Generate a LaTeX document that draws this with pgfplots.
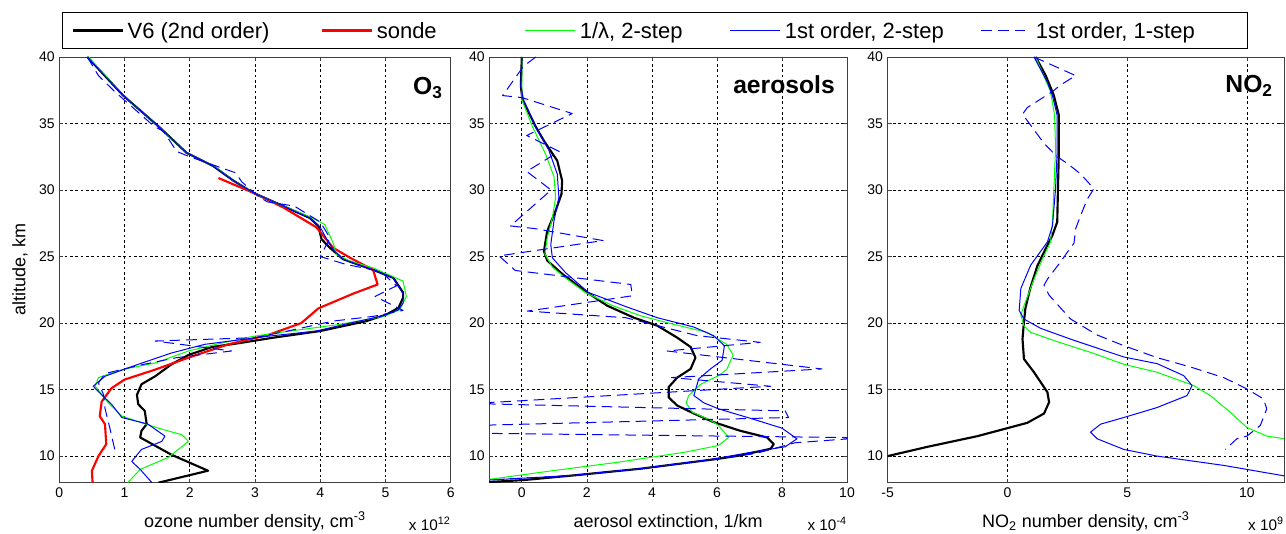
\documentclass[border=0pt]{standalone}
\usepackage{pgfplots}
\pgfplotsset{compat=1.18}
\usepackage{fontspec}
\setmainfont{Liberation Sans}
\definecolor{mgreen}{RGB}{0,255,0}
\tikzset{
 mult/.style={anchor=base east, inner sep=0pt, font=\fontsize{11.5}{13}\selectfont},
 ttl/.style={anchor=north east, inner sep=0pt, font=\bfseries\fontsize{18.5}{20}\selectfont},
}
\pgfplotsset{
 panel/.style={
  scale only axis, height=319.275pt, anchor=south west,
  ymin=8, ymax=40, ytick={10,15,20,25,30,35,40},
  grid=major, major grid style={black, line width=0.5pt, dash pattern=on 2pt off 2pt},
  tick align=inside, major tick length=3pt,
  axis line style={black!75, line width=0.6pt},
  every tick/.style={black!75, line width=0.5pt},
  tick label style={font=\fontsize{10.5}{12}\selectfont},
  /pgf/number format/assume math mode=true,
  xlabel style={font=\fontsize{13.5}{16}\selectfont, at={(axis description cs:0.5,-0.105)}, anchor=base},
  ylabel style={font=\fontsize{13.5}{16}\selectfont, at={(axis description cs:-0.1004,0.5)}, anchor=center},
  clip mode=individual,
  every axis plot/.append style={mark=none, line join=round},
 },
 leg/.style={legend image code/.code={\draw[##1] (0pt,0pt) -- (37.5pt,0pt);}},
 v6/.style={draw=black, line width=1.6pt, leg},
 sonde/.style={draw=red, line width=1.6pt, leg},
 lam/.style={draw=mgreen, line width=0.75pt, leg},
 fo2/.style={draw=blue, line width=0.75pt, leg},
 fo1/.style={draw=blue, line width=0.75pt, dash pattern=on 8pt off 4.5pt, leg},
}
\begin{document}
\begin{tikzpicture}
\path[use as bounding box] (0pt,0pt) rectangle (964.5pt,400.5pt);
% ---------------- O3 ----------------
\begin{axis}[panel, at={(44.475pt,38.475pt)}, width=293.55pt,
  xmin=0, xmax=6, xtick={0,1,2,3,4,5,6},
  xlabel={ozone number density, cm\textsuperscript{-3}},
  ylabel={altitude, km},
  legend columns=5,
  legend style={at={(rel axis cs:0.0069,1.1057)}, anchor=north west, draw=black, line width=0.8pt,
    font=\fontsize{16.5}{19.8}\selectfont, inner xsep=6.75pt, inner ysep=4.8pt,
    nodes={inner xsep=3pt, inner ysep=1pt},
    /tikz/every even column/.append style={column sep=0pt}},
  after end axis/.code={
    \node[mult] at (axis description cs:1,-0.113) {x 10\textsuperscript{12}};
    \node[ttl, xshift=-5.8pt, yshift=-15pt] at (axis description cs:1,1) {O\textsubscript{3}};
  }]
\addplot[v6] coordinates {(0.43,40) (0.98,37.1) (1.54,34.7) (1.95,32.8) (2.36,31.8) (2.67,30.7) (2.97,29.8) (3.43,28.8) (3.84,27.9) (3.97,27.3) (4.02,26.3) (4.15,25.65) (4.35,24.8) (4.81,24.0) (5.12,23.4) (5.27,22.3) (5.27,21.9) (5.2,21.15) (5.02,20.65) (4.71,20.15) (4.0,19.4) (3.28,18.9) (2.77,18.5) (2.34,18.2) (1.98,17.6) (1.72,16.9) (1.47,16.0) (1.26,15.4) (1.19,14.6) (1.21,13.9) (1.31,13.4) (1.34,12.4) (1.26,11.9) (1.24,11.4) (1.72,10.1) (2.28,8.9) (1.52,8.0)};
\addlegendentry{\makebox[141.75pt][l]{\strut V6 (2nd order)}}
\addplot[sonde] coordinates {(2.44,30.9) (2.97,29.8) (3.43,28.7) (3.94,27.2) (4.2,25.65) (4.46,24.9) (4.81,24.0) (4.88,22.9) (4.5,22.2) (3.97,21.1) (3.71,20.0) (3.2,19.1) (2.59,18.4) (1.98,17.4) (1.47,16.5) (1.0,15.75) (0.8,15.1) (0.65,14.1) (0.62,13.0) (0.7,12.4) (0.72,10.9) (0.6,10.0) (0.5,8.9) (0.51,8.0)};
\addlegendentry{\makebox[108pt][l]{\strut sonde}}
\addplot[lam] coordinates {(0.45,40) (0.98,37.1) (1.54,34.7) (1.95,32.8) (2.4,31.7) (2.67,30.7) (2.97,29.8) (3.43,28.8) (3.84,28.0) (4.07,27.4) (4.2,26.0) (4.25,25.15) (4.46,24.65) (4.81,24.15) (5.27,23.15) (5.32,22.0) (5.22,21.0) (4.97,20.5) (4.3,19.9) (3.54,19.4) (2.97,19.0) (2.49,18.5) (1.98,17.9) (1.47,17.0) (0.96,16.5) (0.6,15.9) (0.55,15.25) (0.75,14.0) (0.96,13.0) (1.52,12.1) (1.88,11.6) (1.98,11.1) (1.67,9.9) (1.24,9.0) (1.05,8.0)};
\addlegendentry{\makebox[109.5pt][l]{\strut 1/λ, 2-step}}
\addplot[fo2] coordinates {(0.43,40) (0.98,37.1) (1.54,34.7) (1.95,32.8) (2.36,31.8) (2.67,30.7) (2.97,29.8) (3.43,28.8) (3.84,27.9) (4.0,27.2) (4.1,26.3) (4.2,25.5) (4.35,24.8) (4.81,24.0) (5.12,23.4) (5.27,22.2) (5.27,21.5) (5.2,21.0) (4.97,20.55) (4.46,20.0) (3.94,19.4) (3.18,19.0) (2.23,18.4) (1.72,17.75) (1.21,16.9) (0.7,16.0) (0.52,15.25) (0.65,14.6) (0.8,13.9) (0.96,12.9) (1.36,12.4) (1.62,11.5) (1.57,11.1) (1.26,10.5) (1.11,9.6) (1.24,9.0) (1.42,8.0)};
\addlegendentry{\makebox[144pt][l]{\strut 1st order, 2-step}}
\addplot[fo1] coordinates {(0.43,40) (0.6,38.6) (0.85,37.4) (1.15,36.1) (1.45,34.8) (1.6,34.4) (1.8,32.9) (2.0,32.5) (2.7,31.3) (2.8,30.6) (3.08,29.4) (3.2,29.1) (3.6,28.8) (3.7,28.5) (4.0,27.6) (4.15,26.4) (4.0,25.0) (4.4,24.4) (4.92,23.9) (5.17,22.8) (4.84,22.0) (5.27,20.95) (4.81,20.5) (4.2,20.15) (3.5,19.4) (3.0,18.9) (1.47,18.65) (2.64,17.9) (1.8,17.4) (1.2,16.8) (0.7,16.2) (0.6,15.5) (0.68,14.6) (0.7,13.6) (0.78,12.0) (0.85,10.5)};
\addlegendentry{\makebox[149.25pt][l]{\strut 1st order, 1-step}}
\end{axis}
% ---------------- aerosols ----------------
\begin{axis}[panel, at={(366.975pt,38.475pt)}, width=268.275pt,
  xmin=-1, xmax=10, xtick={0,2,4,6,8,10},
  xlabel={aerosol extinction, 1/km},
  after end axis/.code={
    \node[mult] at (axis description cs:1,-0.113) {x 10\textsuperscript{-4}};
    \node[ttl, xshift=-9pt, yshift=-13.5pt] at (axis description cs:1,1) {aerosols};
  }]
\addplot[v6] coordinates {(0,40) (-0.03,37.8) (0.02,36.8) (0.43,34.75) (0.68,33.7) (1.09,32.2) (1.24,30.7) (1.22,29.7) (1.04,28.45) (0.78,26.9) (0.68,25.4) (0.78,24.7) (1.24,23.7) (1.95,22.4) (2.63,21.3) (3.45,20.4) (4.17,19.8) (4.78,18.9) (5.19,18.2) (5.34,17.4) (5.19,16.55) (4.78,15.9) (4.52,15.2) (4.52,14.4) (4.78,13.8) (5.29,13.2) (5.9,12.55) (6.72,11.9) (7.54,11.4) (7.75,10.9) (7.65,10.55) (6.72,10.05) (6.05,9.8) (3.65,9.05) (1.6,8.55) (0.07,8.2) (-1.0,8.05)};
\addplot[lam] coordinates {(0,40) (0,36.8) (0.33,34.75) (0.73,32.7) (0.99,31.0) (1.04,29.45) (0.94,27.9) (0.78,26.4) (0.71,25.2) (0.94,24.2) (1.34,23.4) (1.95,22.3) (2.8,21.3) (3.65,20.55) (4.68,19.9) (5.7,19.3) (6.3,18.4) (6.5,17.6) (6.3,16.5) (6.05,16.05) (5.5,15.4) (5.13,14.55) (5.05,14.0) (5.24,13.3) (5.8,12.7) (6.05,12.3) (6.36,11.4) (6.05,10.8) (5.03,10.3) (3.0,9.55) (0.94,8.9) (-0.7,8.35) (-1.0,8.25)};
\addplot[fo2] coordinates {(0,40) (-0.03,37.8) (0.05,36.8) (0.43,34.7) (0.83,33.0) (1.09,31.2) (1.14,29.45) (0.99,27.7) (0.89,25.9) (0.94,24.9) (1.34,23.8) (2.05,22.3) (3.24,21.2) (4.17,20.4) (5.29,19.7) (5.9,19.05) (6.23,18.3) (6.16,17.2) (5.8,16.55) (5.44,15.8) (5.29,14.55) (5.6,14.0) (6.05,13.55) (7.08,12.8) (8.0,12.1) (8.46,11.3) (8.1,10.7) (7.08,10.3) (5.7,9.7) (3.65,9.05) (1.6,8.55) (-1.0,8.2)};
\addplot[fo1] coordinates {(0.43,40) (0.05,39.3) (-0.59,37.1) (0.0,36.95) (1.55,35.75) (0.15,34.1) (1.15,32.9) (0.15,31.4) (0.9,30.0) (-0.35,27.3) (0.4,27.1) (2.5,26.2) (-0.7,25.05) (-0.2,23.95) (3.35,22.9) (3.4,22.05) (0.17,20.9) (3.2,20.4) (5.4,19.05) (7.33,18.55) (4.47,17.9) (9.23,16.55) (4.6,15.9) (7.65,15.25) (-1.5,13.95) (8.1,13.4) (8.2,12.9) (-1.5,12.3) (-1.5,11.72) (10.5,11.38) (8.4,11.0) (7.2,10.2) (5.7,9.7) (3.65,9.05) (1.6,8.55) (-1.0,8.2)};
\end{axis}
% ---------------- NO2 ----------------
\begin{axis}[panel, at={(665.775pt,38.475pt)}, width=297.225pt,
  xmin=-5, xmax=11.55, xtick={-5,0,5,10},
  xlabel={NO\textsubscript{2} number density, cm\textsuperscript{-3}},
  after end axis/.code={
    \node[mult] at (axis description cs:1,-0.113) {x 10\textsuperscript{9}};
    \node[ttl, xshift=-8.25pt, yshift=-13.5pt] at (axis description cs:1,1) {NO\textsubscript{2}};
  }]
\addplot[v6] coordinates {(1.18,40) (1.6,38.6) (1.94,37.1) (2.15,35.6) (2.15,33.1) (2.11,30.1) (2.08,27.6) (1.88,26.6) (1.6,25.6) (1.25,24.3) (0.95,22.6) (0.75,21.1) (0.69,20.1) (0.63,18.8) (0.69,17.3) (1.11,16.3) (1.67,14.8) (1.74,14.05) (1.53,13.2) (0.83,12.5) (0,12.1) (-1.25,11.5) (-3.33,10.7) (-5.0,10.0)};
\addplot[lam] coordinates {(1.18,40) (1.8,37.4) (1.97,35.6) (2.01,33.1) (1.94,30.1) (1.88,27.6) (1.8,26.1) (1.46,24.8) (1.11,23.3) (0.69,21.3) (0.56,20.6) (0.69,19.8) (0.97,19.3) (2.08,18.6) (3.47,17.8) (4.86,16.9) (6.25,16.3) (7.78,15.3) (8.47,14.55) (9.3,13.3) (10.0,12.15) (10.83,11.5) (11.6,11.3)};
\addplot[fo2] coordinates {(1.11,40) (1.67,38.1) (1.88,37.1) (2.08,35.6) (2.08,33.1) (2.01,30.1) (1.88,27.3) (1.67,26.1) (0.97,24.35) (0.56,22.6) (0.49,20.95) (0.69,20.3) (1.39,19.6) (2.78,18.7) (4.86,17.45) (6.25,16.95) (7.36,16.05) (7.71,15.3) (7.5,14.55) (6.25,13.65) (4.86,12.9) (3.89,12.4) (3.47,11.8) (3.75,11.3) (4.86,10.5) (6.25,10.0) (9.03,9.3) (11.6,8.5)};
\addplot[fo1] coordinates {(1.11,40) (2.85,38.6) (2.22,37.9) (1.88,37.4) (0.83,36.2) (0.63,35.7) (1.53,33.5) (2.08,32.5) (2.5,32.0) (3.06,31.2) (3.61,30.1) (3.33,29.3) (3.06,28.1) (2.85,27.1) (2.78,26.0) (2.57,25.5) (2.22,24.6) (1.67,23.3) (1.53,22.85) (1.74,22.1) (2.64,20.3) (3.75,19.1) (4.86,18.3) (6.25,17.4) (7.64,16.7) (9.03,15.9) (10.0,15.05) (10.69,14.3) (10.83,13.55) (10.56,12.3) (10.0,11.5) (9.58,11.3) (9.1,10.5)};
\end{axis}
\end{tikzpicture}
\end{document}
